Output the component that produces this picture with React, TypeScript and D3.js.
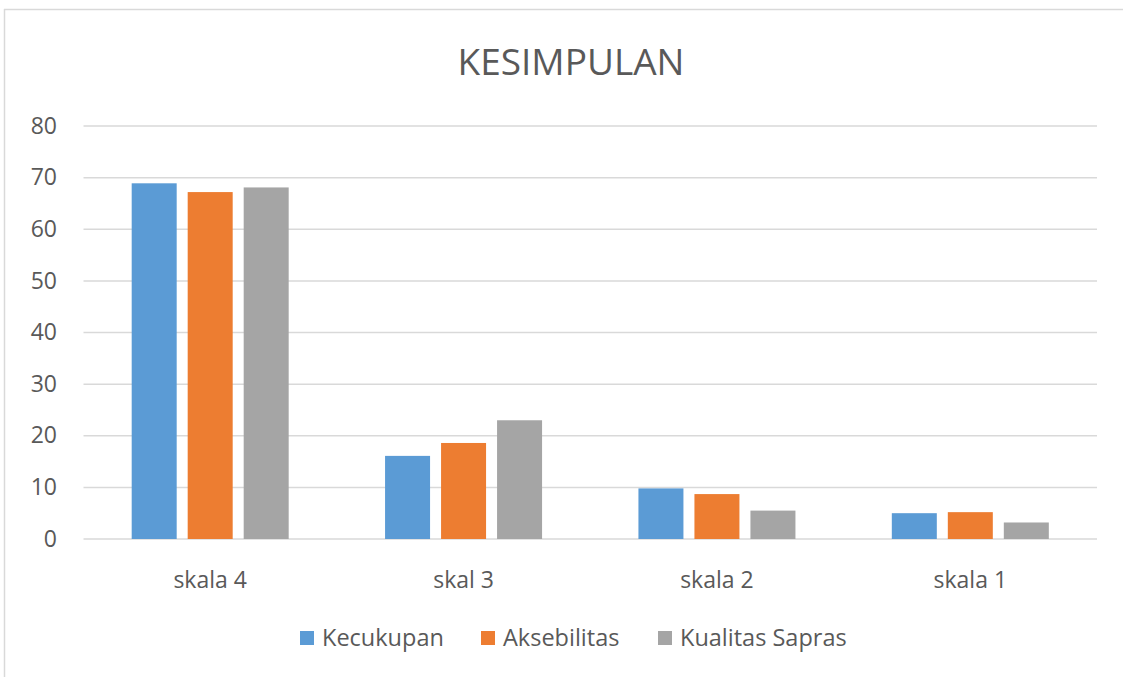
import React from "react";
import * as d3 from "d3";

const categories = ["skala 4", "skal 3", "skala 2", "skala 1"];
const seriesNames = ["Kecukupan", "Aksebilitas", "Kualitas Sapras"];
const kecukupan = [68.9, 16.1, 9.8, 5.0];
const aksebilitas = [67.2, 18.6, 8.7, 5.2];
const kualitasSapras = [68.1, 23.0, 5.5, 3.2];
const yTicks = [0, 10, 20, 30, 40, 50, 60, 70, 80];
const colors = ["#5b9bd5", "#ed7d31", "#a5a5a5"];

export default function App() {
  const W = 1123, H = 677;
  const left = 83.5, right = 1097, top = 126, bottom = 539;
  const font = "'Open Sans', sans-serif";
  const series = [kecukupan, aksebilitas, kualitasSapras];
  const x = d3.scaleBand<string>().domain(categories).range([left, right]).paddingInner(0).paddingOuter(0);
  const y = d3.scaleLinear().domain([0, 80]).range([bottom, top]);
  const barW = 45, gap = 11;
  const groupW = 3 * barW + 2 * gap;
  const legendItems = [
    { x: 300, name: seriesNames[0] },
    { x: 481, name: seriesNames[1] },
    { x: 658, name: seriesNames[2] },
  ];
  return (
    <svg width={W} height={H} style={{ position: "absolute", left: 0, top: 0 }}>
      <rect x={0} y={0} width={W} height={H} fill="#fff" />
      <line x1={4.5} y1={9} x2={4.5} y2={H} stroke="#d9d9d9" strokeWidth={1.5} />
      <line x1={4} y1={9.5} x2={W} y2={9.5} stroke="#d9d9d9" strokeWidth={1.5} />
      <text x={571} y={65.5} textAnchor="middle" dominantBaseline="middle" fontFamily={font} fontSize={37} fill="#595959">KESIMPULAN</text>
      {yTicks.map((t) => (
        <g key={t}>
          <line x1={left} x2={right} y1={y(t)} y2={y(t)} stroke="#d9d9d9" strokeWidth={1.5} />
          <text x={57} y={y(t) + 1.5} textAnchor="end" dominantBaseline="middle" fontFamily={font} fontSize={23} fill="#595959">{t}</text>
        </g>
      ))}
      {categories.map((c, ci) => {
        const cx = (x(c) as number) + x.bandwidth() / 2;
        const start = cx - groupW / 2;
        return (
          <g key={c}>
            {series.map((s, si) => (
              <rect key={si} x={start + si * (barW + gap)} y={y(s[ci])} width={barW} height={bottom - y(s[ci])} fill={colors[si]} />
            ))}
            <text x={cx} y={581.5} textAnchor="middle" dominantBaseline="middle" fontFamily={font} fontSize={23} fill="#595959">{c}</text>
          </g>
        );
      })}
      {legendItems.map((l, i) => (
        <g key={l.name}>
          <rect x={l.x} y={631} width={14} height={14} fill={colors[i]} />
          <text x={l.x + 22} y={640} dominantBaseline="middle" fontFamily={font} fontSize={23.5} fill="#595959">{l.name}</text>
        </g>
      ))}
    </svg>
  );
}
